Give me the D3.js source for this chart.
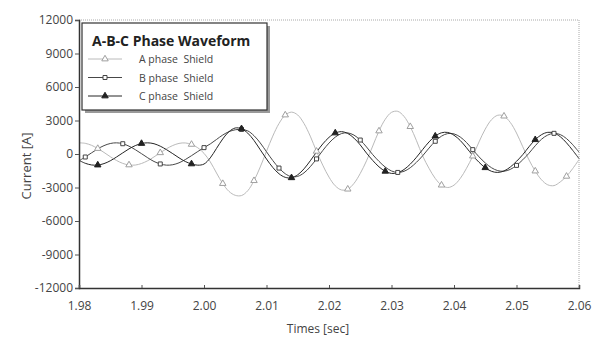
<!DOCTYPE html>
<html>
<head>
<meta charset="utf-8">
<script src="https://cdn.jsdelivr.net/npm/d3@7"></script>
<style>
  html, body { margin: 0; padding: 0; background: #fff; }
  svg { display: block; }
  text { font-family: "Open Sans", "Noto Sans", sans-serif; }
</style>
</head>
<body>
<svg id="chart" width="595" height="338"></svg>
<script>
// Shield currents sampled every 1 ms from 1.980 s to 2.060 s
const startTime = 1.98;
const sampleStep = 0.001;

const phaseA = [
  1000, 955, 780, 490, 140, -240, -580, -840, -980, -990,
  -850, -600, -260, 110, 470, 760, 950, 990, 860, 560,
  60, -700, -1700, -2650, -3350, -3700, -3720, -3290, -2390, -1160,
  240, 1600, 2730, 3490, 3750, 3490, 2730, 1600, 240, -1000,
  -2070, -2850, -3220, -3150, -2630, -1740, -610, 720, 2060, 3110,
  3730, 3820, 3370, 2450, 1190, -190, -1280, -2190, -2790, -3000,
  -2790, -2190, -1280, -190, 1080, 2230, 3070, 3470, 3390, 2830,
  1880, 650, -530, -1530, -2310, -2760, -2830, -2500, -2000, -1300,
  -500
];

const phaseB = [
  -610, -270, 100, 460, 750, 940, 1000, 920, 700, 390,
  30, -340, -670, -890, -1000, -960, -790, -500, -150, 220,
  570, 900, 1300, 1700, 2000, 2170, 2200, 2070, 1640, 990,
  200, -580, -1260, -1770, -2030, -2000, -1690, -1140, -440, 310,
  980, 1510, 1830, 1890, 1690, 1250, 630, -60, -660, -1170,
  -1520, -1650, -1550, -1230, -740, -150, 530, 1140, 1600, 1830,
  1800, 1520, 1030, 390, -250, -800, -1230, -1490, -1540, -1380,
  -1020, -520, 70, 740, 1320, 1700, 1850, 1740, 1380, 830,
  160
];

const phaseC = [
  -570, -830, -980, -990, -860, -610, -270, 100, 460, 750,
  940, 1000, 920, 700, 390, 30, -340, -670, -890, -1000,
  -900, -350, 500, 1350, 2000, 2330, 2260, 1870, 1210, 380,
  -450, -1200, -1770, -2090, -2130, -1860, -1330, -610, 170, 900,
  1490, 1880, 2000, 1840, 1420, 810, 80, -580, -1150, -1550,
  -1740, -1680, -1390, -910, -290, 410, 1080, 1600, 1900, 1930,
  1680, 1210, 560, -140, -740, -1230, -1550, -1650, -1520, -1170,
  -660, -60, 650, 1280, 1730, 1940, 1880, 1550, 1000, 320,
  -410
];

// sample indices that carry a symbol on each trace
const markersA = [3, 8, 13, 18, 23, 28, 33, 38, 43, 48, 53, 58, 63, 68, 73, 78];
const markersB = [1, 7, 13, 20, 26, 32, 38, 45, 51, 57, 63, 70, 76];
const markersC = [3, 10, 18, 26, 34, 41, 49, 57, 65, 73];

const seriesNames = ["A phase  Shield", "B phase  Shield", "C phase  Shield"];
const legendTitle = "A-B-C Phase Waveform";
const xTicks = [1.98, 1.99, 2.00, 2.01, 2.02, 2.03, 2.04, 2.05, 2.06];
const yTicks = [12000, 9000, 6000, 3000, 0, -3000, -6000, -9000, -12000];
const xTitle = "Times [sec]";
const yTitle = "Current [A]";

const svg = d3.select("#chart");
const plotLeft = 79, plotRight = 579, plotTop = 20, plotBottom = 288;

const x = d3.scaleLinear().domain([1.98, 2.06]).range([plotLeft, plotRight]);
const y = d3.scaleLinear().domain([-12000, 12000]).range([plotBottom, plotTop]);

const traces = [
  { name: seriesNames[0], values: phaseA, marks: markersA, stroke: "#bababa", symbol: d3.symbolTriangle, fill: "#fff", mstroke: "#9f9f9f", size: 18 },
  { name: seriesNames[1], values: phaseB, marks: markersB, stroke: "#484848", symbol: d3.symbolSquare, fill: "#fff", mstroke: "#444", size: 16 },
  { name: seriesNames[2], values: phaseC, marks: markersC, stroke: "#262626", symbol: d3.symbolTriangle, fill: "#222", mstroke: "#222", size: 18 }
];

// plot frame: dotted top and right edges
svg.append("path")
  .attr("d", `M${plotLeft},${plotTop}H${plotRight}V${plotBottom}`)
  .attr("fill", "none")
  .attr("stroke", "#aaa")
  .attr("stroke-width", 1)
  .attr("stroke-dasharray", "1,1");

// traces
const line = d3.line()
  .x((d, i) => x(startTime + i * sampleStep))
  .y(d => y(d))
  .curve(d3.curveCatmullRom.alpha(0.5));

const plot = svg.append("g");
traces.forEach(s => {
  plot.append("path")
    .datum(s.values)
    .attr("d", line)
    .attr("fill", "none")
    .attr("stroke", s.stroke)
    .attr("stroke-width", 1);
});
traces.forEach(s => {
  const sym = d3.symbol().type(s.symbol).size(s.size);
  plot.selectAll(null)
    .data(s.marks)
    .join("path")
    .attr("d", sym)
    .attr("transform", i => `translate(${x(startTime + i * sampleStep)},${y(s.values[i])})`)
    .attr("fill", s.fill)
    .attr("stroke", s.mstroke)
    .attr("stroke-width", 1);
});

// axes
const yAxis = d3.axisLeft(y).tickValues(yTicks).tickSize(4).tickFormat(d3.format("d"));
const yg = svg.append("g").attr("transform", `translate(${plotLeft},0)`).call(yAxis);
yg.select(".domain").attr("stroke", "#333").attr("stroke-width", 1.5);
yg.selectAll(".tick line").attr("stroke", "#555");
yg.selectAll(".tick text")
  .attr("x", -6)
  .attr("fill", "#444")
  .style("font-size", "12px")
  .style("font-family", "'Open Sans', sans-serif")
  .text(d => d < 0 ? "-" + Math.abs(d) : String(d));

const xAxis = d3.axisBottom(x).tickValues(xTicks).tickSize(-3).tickFormat(d3.format(".2f"));
const xg = svg.append("g").attr("transform", `translate(0,${plotBottom})`).call(xAxis);
xg.select(".domain").attr("stroke", "#333").attr("stroke-width", 1.5);
xg.selectAll(".tick line").attr("stroke", "#555");
xg.selectAll(".tick text")
  .attr("y", 13)
  .attr("fill", "#444")
  .style("font-size", "12px")
  .style("font-family", "'Open Sans', sans-serif");

// axis titles
svg.append("text")
  .attr("x", 318).attr("y", 333)
  .attr("text-anchor", "middle")
  .attr("fill", "#444")
  .style("font-size", "12px")
  .text(xTitle);

svg.append("text")
  .attr("transform", "translate(31,166) rotate(-90)")
  .attr("text-anchor", "middle")
  .attr("fill", "#444")
  .style("font-size", "13px")
  .text(yTitle);

// legend
const lg = svg.append("g");
lg.append("rect")
  .attr("x", 85).attr("y", 26).attr("width", 185).attr("height", 87)
  .attr("fill", "#9a9a9a");
lg.append("rect")
  .attr("x", 82).attr("y", 23).attr("width", 185).attr("height", 87)
  .attr("fill", "#fff").attr("stroke", "#333").attr("stroke-width", 1.2);
lg.append("text")
  .attr("x", 92).attr("y", 46)
  .attr("fill", "#222")
  .style("font-size", "14px").style("font-weight", "bold")
  .text(legendTitle);

traces.forEach((s, k) => {
  const cy = 59 + k * 18.5;
  lg.append("line")
    .attr("x1", 88).attr("x2", 122).attr("y1", cy).attr("y2", cy)
    .attr("stroke", s.stroke).attr("stroke-width", 1);
  lg.append("path")
    .attr("d", d3.symbol().type(s.symbol).size(s.size))
    .attr("transform", `translate(105,${cy})`)
    .attr("fill", s.fill).attr("stroke", s.mstroke).attr("stroke-width", 1);
  lg.append("text")
    .attr("x", 139).attr("y", cy + 4)
    .attr("fill", "#444")
    .style("font-size", "10.5px")
    .style("white-space", "pre")
    .text(s.name);
});
</script>
</body>
</html>
